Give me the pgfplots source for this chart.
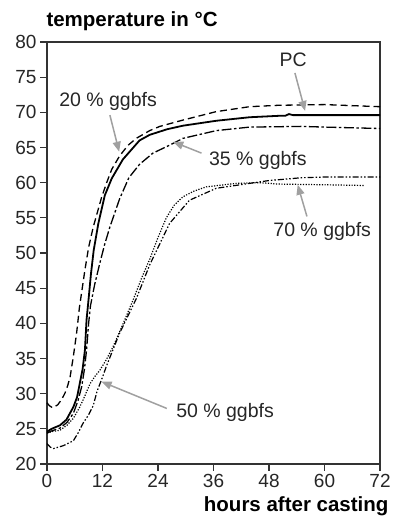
\documentclass[border=0pt]{standalone}
\usepackage{fontspec}
\setmainfont{Liberation Sans}
\usepackage{pgfplots}
\pgfplotsset{compat=1.18}
\usetikzlibrary{arrows.meta}
\definecolor{framegray}{HTML}{333333}
\definecolor{arrowgray}{HTML}{A0A0A0}

\begin{document}
\begin{tikzpicture}[x=1bp,y=1bp]
\useasboundingbox (0,0) rectangle (398,525);
\begin{axis}[
  at={(47bp,61bp)}, anchor=south west,
  scale only axis, width=333bp, height=422bp,
  xmin=0, xmax=72, ymin=20, ymax=80,
  xtick={0,12,...,72}, ytick={20,25,...,80},
  tick align=outside, tick pos=left,
  major tick length=7bp,
  axis line style={framegray, line width=1.3bp},
  every tick/.style={framegray, line width=1.2bp},
  ticklabel style={font=\fontsize{19bp}{20bp}\selectfont, text=black!85},
  /pgf/number format/assume math mode=true,
  clip=false,
  every axis plot/.append style={black, line join=round},
]
% PC
\addplot[line width=1.8bp] coordinates {
 (0,24.6) (1,25.0) (2.8,25.5) (4.2,26.3) (5.7,28.1) (6.5,29.5) (7.1,31.5)
 (7.7,33.5) (8.2,36.2) (8.55,40.5) (9.0,43.5) (9.5,47) (10.1,50.4) (11.1,54.2)
 (12.5,58.2) (14,60.6) (16.4,63.3) (20,66.0) (22.2,66.8) (26,67.6) (29.4,68.1)
 (36.6,68.8) (43.8,69.3) (50,69.5) (51.5,69.5) (52.3,69.75) (53.2,69.6) (60,69.6) (72,69.6)};
% 20 % ggbfs
\addplot[line width=1.3bp, dash pattern=on 7bp off 4bp] coordinates {
 (0,28.7) (0.5,28.3) (1.2,28.0) (2.3,28.4) (3.2,29.2) (3.9,30.1) (4.5,31.2)
 (5,32.4) (5.7,35.3) (6.4,38.6) (7,42.2) (8.2,47.6) (9,50.8) (10,53.7)
 (11.8,57.9) (12.9,60) (14,61.9) (15.7,63.8) (17.5,65.3) (19.3,66.3) (22.2,67.4)
 (24.4,68.0) (29.4,68.9) (36.6,70.1) (43.8,70.8) (50,71.0) (60,71.1) (72,70.8)};
% 35 % ggbfs
\addplot[line width=1.3bp, dash pattern=on 10bp off 2.5bp on 2.5bp off 2.5bp] coordinates {
 (0,24.4) (1,24.7) (2.8,25.1) (4.3,25.9) (5.7,27.2) (6.7,29) (7.5,31) (8.1,33.5)
 (8.55,36.2) (9.0,40) (9.4,42.5) (10.3,45.5) (11.4,48.5) (12.5,51.3) (13.6,53.7)
 (15.7,57.7) (17.7,60.7) (20,62.6) (22.9,64.2) (26.1,65.2) (29.4,66.3) (36.6,67.4)
 (43.8,67.9) (55,68.0) (60,67.9) (72,67.7)};
% 50 % ggbfs
\addplot[line width=1.2bp, dash pattern=on 6bp off 2bp on 1.5bp off 2bp on 1.5bp off 2bp] coordinates {
 (0,22.9) (0.7,22.4) (1.4,22.2) (2.5,22.4) (3.5,22.6) (5.7,23.3) (6.8,24.5)
 (7.8,25.8) (9,27) (10,28.3) (10.8,30.3) (11.8,32.0) (12.9,34.0) (15.7,38.6)
 (19.3,43.5) (22.2,48.3) (26.5,54.2) (30.8,57.5) (36.6,59.2) (43.8,59.9)
 (48,60.3) (55,60.7) (60,60.8) (72,60.8)};
% 70 % ggbfs
\addplot[line width=1.2bp, dash pattern=on 1.2bp off 1.5bp] coordinates {
 (0,24.4) (1,24.6) (2.8,24.8) (4.3,25.5) (5.7,26.5) (7,28) (7.8,29.1) (9.3,31.4)
 (10.3,32.4) (11.4,33.3) (12.8,34.8) (14.3,36.7) (16.5,40) (18.6,43.3) (20.5,46.5)
 (22.2,49.1) (24,52.2) (25.8,55) (27.5,56.8) (29.4,58) (31.8,58.8) (34.4,59.4)
 (40.9,59.9) (46,60) (50,59.8) (60,59.7) (68.5,59.6)};

% labels with pointer arrows
\begin{scope}[every node/.style={font=\fontsize{19.5bp}{22bp}\selectfont, text=black!85}]
\node at (axis cs:13.2,71.5) {20 \% ggbfs};
\node at (axis cs:53.2,77.4) {PC};
\node at (axis cs:45.6,63.2) {35 \% ggbfs};
\node at (axis cs:59.5,53.0) {70 \% ggbfs};
\node at (axis cs:38.5,27.3) {50 \% ggbfs};
\end{scope}
\begin{scope}[arrowgray, line width=1.5bp, -{Triangle[length=10bp,width=8bp]}]
\draw (axis cs:13.6,69.6) -- (axis cs:15.6,64.4);
\draw (axis cs:53.6,75.6) -- (axis cs:55.8,70.2);
\draw (axis cs:33.4,64.2) -- (axis cs:27.3,65.8);
\draw (axis cs:56.2,55.2) -- (axis cs:54.2,59.7);
\draw (axis cs:25.9,27.9) -- (axis cs:11.8,31.7);
\end{scope}
\end{axis}
\node[anchor=base west, font=\bfseries\fontsize{20.5bp}{24bp}\selectfont] at (43,498) {temperature in °C};
\node[anchor=base east, font=\bfseries\fontsize{20.5bp}{24bp}\selectfont] at (392,13) {hours after casting};
\end{tikzpicture}
\end{document}
